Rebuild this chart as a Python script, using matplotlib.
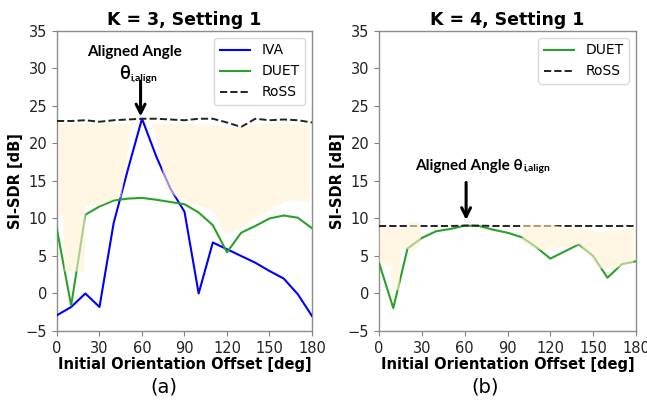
import matplotlib
matplotlib.use("Agg")
import matplotlib.pyplot as plt

# ---------------- data ----------------
offsets = [0, 10, 20, 30, 40, 50, 60, 70, 80, 90, 100, 110, 120, 130, 140, 150, 160, 170, 180]

# panel (a): K = 3
iva_a = [-2.9, -1.8, 0.0, -1.8, 9.4, 16.5, 23.3, 18.3, 14.0, 10.9, 0.0, 6.8, 5.9, 5.0, 4.1, 3.0, 2.0, -0.1, -3.0]
duet_a = [8.5, -1.6, 10.5, 11.6, 12.4, 12.65, 12.75, 12.5, 12.2, 11.9, 10.8, 9.1, 5.5, 8.1, 9.0, 10.0, 10.4, 10.1, 8.7]
ross_a = [23.0, 23.0, 23.1, 22.9, 23.1, 23.2, 23.3, 23.3, 23.2, 23.1, 23.3, 23.3, 22.8, 22.2, 23.3, 23.1, 23.2, 23.1, 22.8]

# panel (b): K = 4
duet_b = [4.1, -1.95, 6.0, 7.4, 8.3, 8.6, 9.05, 9.0, 8.5, 8.1, 7.5, 6.2, 4.65, 5.6, 6.55, 5.0, 2.1, 3.9, 4.3]
ross_b = [9.0, 9.0, 9.0, 9.0, 9.0, 9.0, 9.05, 9.05, 9.0, 9.0, 9.0, 9.0, 9.0, 9.0, 9.0, 9.0, 9.0, 9.0, 9.0]

# highlighted gain region (hand-drawn shading)
shade_a_x = [0.5, 4, 5, 19, 20, 30, 40, 45, 48, 52, 53, 66, 67, 72, 76, 80, 87, 100, 110, 118, 125, 135, 145, 155, 165, 178]
shade_a_lo = [10.5, 10.5, 3.0, 3.0, 11.8, 11.8, 12.6, 12.9, 16.5, 22.5, 22.7, 22.7, 22.5, 19.0, 14.2, 13.5, 12.5, 11.8, 11.1, 8.2, 8.2, 9.5, 10.7, 11.8, 12.5, 12.2]
shade_a_hi = [22.7, 22.7, 22.7, 22.7, 22.7, 22.7, 22.7, 22.7, 22.7, 22.7, 22.7, 22.7, 22.7, 22.7, 22.7, 22.7, 22.7, 22.6, 22.5, 22.2, 22.1, 22.4, 22.7, 22.7, 22.7, 22.6]

shade_b1_x = [0, 8, 9, 14, 15, 20, 21, 29]
shade_b1_lo = [4.2, 3.6, 0.5, 0.5, 6.0, 6.0, 5.4, 6.6]
shade_b1_hi = [8.9, 8.9, 8.9, 8.9, 8.9, 8.9, 9.6, 9.6]

shade_b2_x = [100, 114, 119, 140, 154, 165, 178]
shade_b2_lo = [6.7, 5.8, 6.0, 6.6, 3.4, 3.4, 4.2]
shade_b2_hi = [9.35, 9.35, 9.3, 8.5, 8.3, 8.4, 8.9]

xticks = [0, 30, 60, 90, 120, 150, 180]
yticks = [-5, 0, 5, 10, 15, 20, 25, 30, 35]

# ---------------- figure ----------------
fig = plt.figure(figsize=(6.47, 4.03), dpi=100)
axA = fig.add_axes([0.0881, 0.1787, 0.3941, 0.7444])
axB = fig.add_axes([0.5858, 0.1787, 0.3972, 0.7444])

shade_kw = dict(color="#fff0d2", alpha=0.6, linewidth=0, zorder=5)

axA.plot(offsets, iva_a, color="#0000ff", lw=1.5, label="IVA", zorder=3)
axA.plot(offsets, duet_a, color="#2ca02c", lw=1.5, label="DUET", zorder=3)
axA.plot(offsets, ross_a, color="#222222", lw=1.4, ls="--", label="RoSS", zorder=3)
axA.fill_between(shade_a_x, shade_a_lo, shade_a_hi, **shade_kw)

axB.plot(offsets, duet_b, color="#2ca02c", lw=1.5, label="DUET", zorder=3)
axB.plot(offsets, ross_b, color="#222222", lw=1.4, ls="--", label="RoSS", zorder=3)
axB.fill_between(shade_b1_x, shade_b1_lo, shade_b1_hi, **shade_kw)
axB.fill_between(shade_b2_x, shade_b2_lo, shade_b2_hi, **shade_kw)

for ax, title in [(axA, "K = 3, Setting 1"), (axB, "K = 4, Setting 1")]:
    ax.set_xlim(0, 180)
    ax.set_ylim(-5, 35)
    ax.set_xticks(xticks)
    ax.set_yticks(yticks)
    ax.tick_params(labelsize=10.5, length=3.5, width=0.8, colors="0.5", labelcolor="#222222")
    for sp in ax.spines.values():
        sp.set_color("0.55")
        sp.set_linewidth(1.0)
    ax.set_title(title, fontsize=12.5, fontweight="bold", pad=4)
    ax.set_xlabel("Initial Orientation Offset [deg]", fontsize=10.5, fontweight="bold", labelpad=1)
    ax.set_ylabel("SI-SDR [dB]", fontsize=10.5, fontweight="bold", labelpad=2)
    ax.legend(loc="upper right", fontsize=10, handlelength=2.2, framealpha=1,
              edgecolor="0.85", fancybox=True)

ann_font = ["Lato", "DejaVu Sans"]

# panel (a) annotation
axA.text(55, 32.2, "Aligned Angle", ha="center", va="center", fontsize=11,
         fontweight="bold", family=ann_font, zorder=6)
thA = axA.text(51.5, 28.6, "θ", ha="right", va="baseline", fontsize=13,
               fontweight="bold", family=ann_font, zorder=6)
axA.annotate("i,align", xy=(1, 0), xycoords=thA, va="baseline", ha="left",
             fontsize=7.5, fontweight="bold", family=ann_font,
             xytext=(0.5, 1), textcoords="offset points")
axA.annotate("", xy=(59, 23.6), xytext=(59, 28.3),
             arrowprops=dict(arrowstyle="->", lw=2.2, color="black",
                             mutation_scale=16, shrinkA=0, shrinkB=0), zorder=6)

# panel (b) annotation
thB = axB.text(25, 16.5, "Aligned Angle θ", ha="left", va="baseline", fontsize=11,
               fontweight="bold", family=ann_font, zorder=6)
axB.annotate("i,align", xy=(1, 0), xycoords=thB, va="baseline", ha="left",
             fontsize=7.5, fontweight="bold", family=ann_font,
             xytext=(0.5, 1.5), textcoords="offset points")
axB.annotate("", xy=(61, 9.8), xytext=(61, 14.8),
             arrowprops=dict(arrowstyle="->", lw=2.2, color="black",
                             mutation_scale=16, shrinkA=0, shrinkB=0), zorder=6)

fig.text(0.2535, 0.04, "(a)", ha="center", va="center", fontsize=14)
fig.text(0.7505, 0.04, "(b)", ha="center", va="center", fontsize=14)

fig.savefig("out.png", dpi=100)
